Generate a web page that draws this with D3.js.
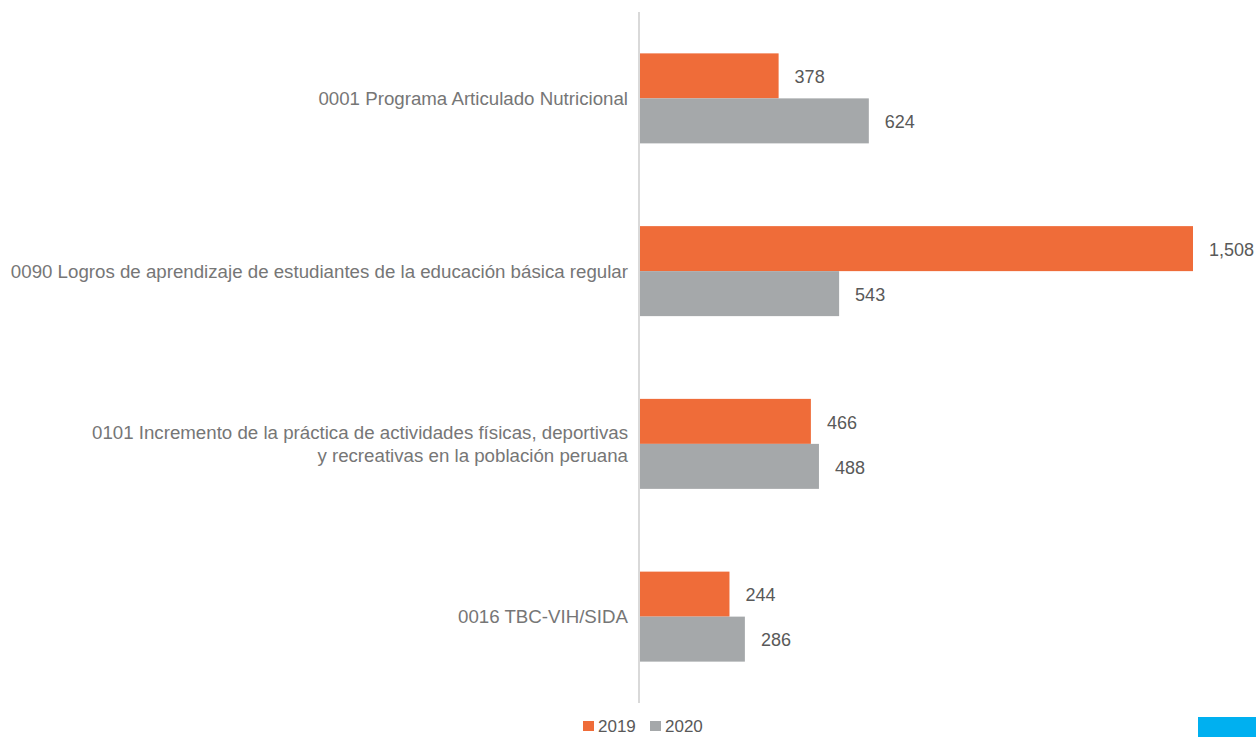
<!DOCTYPE html>
<html>
<head>
<meta charset="utf-8">
<script src="https://cdn.jsdelivr.net/npm/d3@7"></script>
<style>
  body { margin: 0; background: #fff; }
  svg { display: block; font-family: "Liberation Sans", Arial, sans-serif; }
</style>
</head>
<body>
<svg id="chart" width="1256" height="737"></svg>
<script>
const categories = [
  ["0001 Programa Articulado Nutricional"],
  ["0090 Logros de aprendizaje de estudiantes de la educación básica regular"],
  ["0101 Incremento de la práctica de actividades físicas, deportivas", "y recreativas en la población peruana"],
  ["0016 TBC-VIH/SIDA"]
];
const seriesNames = ["2019", "2020"];
const values2019 = [378, 1508, 466, 244];
const values2020 = [624, 543, 488, 286];
const colors = ["#EF6C39", "#A5A8AA"];

const svg = d3.select("#chart");
const x0 = 640, plotTop = 12, plotBottom = 703;

const data = categories.map((c, i) => ({ label: c, vals: [values2019[i], values2020[i]] }));

const x = d3.scaleLinear().domain([0, 1508]).range([x0, 1193]);
const y = d3.scaleBand().domain(d3.range(categories.length))
  .range([plotTop, plotBottom]).paddingInner(0.479).paddingOuter(0.2395);
const ySub = d3.scaleBand().domain([0, 1]).range([0, y.bandwidth()]);

// axis line
svg.append("line")
  .attr("x1", x0 - 1).attr("x2", x0 - 1)
  .attr("y1", plotTop).attr("y2", plotBottom)
  .attr("stroke", "#d9d9d9").attr("stroke-width", 2);

const groups = svg.selectAll("g.grp")
  .data(data)
  .enter()
  .append("g")
    .attr("class", "grp")
    .attr("transform", (d, i) => `translate(0,${y(i)})`);

groups.selectAll("rect")
  .data(d => d.vals)
  .enter()
  .append("rect")
    .attr("x", x0)
    .attr("y", (v, j) => ySub(j))
    .attr("width", v => x(v) - x0)
    .attr("height", ySub.bandwidth())
    .attr("fill", (v, j) => colors[j]);

groups.selectAll("text.val")
  .data(d => d.vals)
  .enter()
  .append("text")
    .attr("class", "val")
    .attr("x", v => x(v) + 16)
    .attr("y", (v, j) => ySub(j) + ySub.bandwidth() / 2 + 1)
    .attr("dy", "0.35em")
    .attr("font-size", 18)
    .attr("fill", "#595959")
    .text(v => d3.format(",")(v));

// category labels
groups.append("text")
  .attr("text-anchor", "end")
  .attr("x", 628)
  .attr("y", y.bandwidth() / 2)
  .attr("font-size", 18.7)
  .attr("fill", "#767676")
  .selectAll("tspan")
  .data(d => d.label)
  .enter()
  .append("tspan")
    .attr("x", 628)
    .attr("dy", (t, k, arr) => k === 0 ? `${0.35 - (arr.length - 1) * 0.6}em` : "1.2em")
    .text(t => t);

// legend
const legend = svg.append("g").attr("transform", "translate(583,726)");
const legX = [0, 67];
seriesNames.forEach((name, i) => {
  legend.append("rect")
    .attr("x", legX[i]).attr("y", -5)
    .attr("width", 11).attr("height", 10)
    .attr("fill", colors[i]);
  legend.append("text")
    .attr("x", legX[i] + 15).attr("y", 0)
    .attr("dy", "0.35em")
    .attr("font-size", 17)
    .attr("fill", "#595959")
    .text(name);
});

// blue corner block
svg.append("rect")
  .attr("x", 1198).attr("y", 717)
  .attr("width", 58).attr("height", 20)
  .attr("fill", "#00B0F0");
</script>
</body>
</html>
